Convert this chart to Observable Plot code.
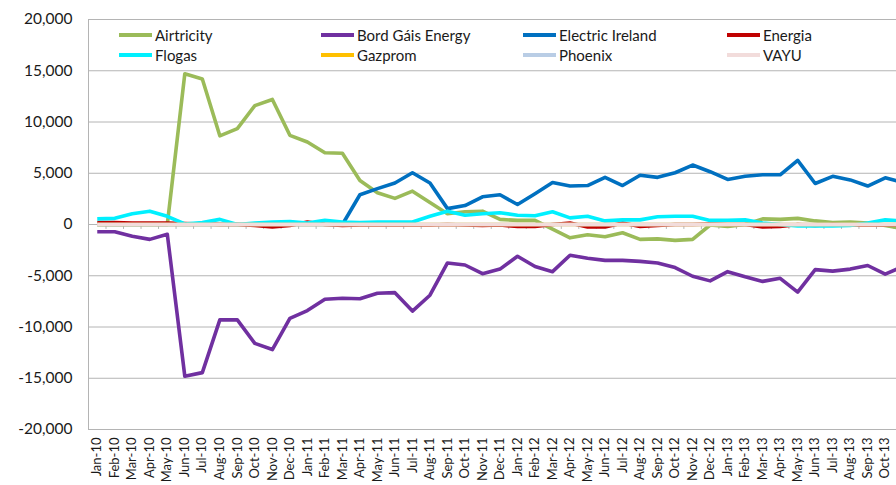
<!DOCTYPE html>
<html><head><meta charset="utf-8">
<script src="https://cdn.jsdelivr.net/npm/d3@7"></script>
<script src="https://cdn.jsdelivr.net/npm/@observablehq/plot@0.6"></script>
<style>
html,body{margin:0;padding:0;overflow:hidden;background:#fff;}
#wrap{position:relative;width:896px;height:485px;overflow:hidden;font-family:Lato,sans-serif;}
#wrap svg{position:absolute;left:0;top:0;max-width:none !important;width:911px !important;height:485px !important;}
.leg{position:absolute;display:flex;align-items:center;font-size:15px;color:#1a1a1a;white-space:nowrap;transform:translateY(-50%);}
.sw{width:33px;height:4px;margin-right:3px;}
</style></head><body><div id="wrap"></div>
<script>
const months = ["Jan-10","Feb-10","Mar-10","Apr-10","May-10","Jun-10","Jul-10","Aug-10","Sep-10","Oct-10","Nov-10","Dec-10",
"Jan-11","Feb-11","Mar-11","Apr-11","May-11","Jun-11","Jul-11","Aug-11","Sep-11","Oct-11","Nov-11","Dec-11",
"Jan-12","Feb-12","Mar-12","Apr-12","May-12","Jun-12","Jul-12","Aug-12","Sep-12","Oct-12","Nov-12","Dec-12",
"Jan-13","Feb-13","Mar-13","Apr-13","May-13","Jun-13","Jul-13","Aug-13","Sep-13","Oct-13","Nov-13"];

const seriesNames = ["Airtricity","Bord Gáis Energy","Electric Ireland","Energia","Flogas","Gazprom","Phoenix","VAYU"];
const seriesColors = ["#9BBB59","#7030A0","#0070C0","#C00000","#00F0FF","#FFC000","#B9CDE5","#F2DCDB"];

const airtricity = [0,0,0,0,0,14700,14200,8650,9350,11600,12200,8700,
 8050,7000,6950,4300,3100,2550,3250,2150,1050,1250,1300,500,
 400,400,-450,-1300,-1000,-1200,-800,-1450,-1400,-1550,-1450,-50,
 -200,0,550,500,600,350,200,250,150,-100,-400];
const bordGais = [-700,-700,-1150,-1450,-950,-14800,-14450,-9300,-9300,-11600,-12200,-9150,
 -8400,-7300,-7200,-7250,-6700,-6650,-8450,-6900,-3750,-3950,-4800,-4350,
 -3100,-4100,-4600,-3000,-3300,-3500,-3500,-3600,-3750,-4200,-5050,-5500,
 -4600,-5100,-5550,-5250,-6600,-4400,-4550,-4350,-4000,-4850,-4100];
const electricIreland = [0,0,0,0,0,0,0,0,0,0,0,0,
 0,0,0,2900,3500,4050,5050,4050,1550,1850,2700,2900,
 1950,3000,4100,3750,3800,4600,3800,4800,4600,5050,5800,5150,
 4400,4700,4850,4850,6250,4000,4700,4350,3750,4550,4100];
const energia = [200,200,150,150,150,100,50,0,0,-100,-250,-100,
 250,0,-100,-50,-50,-50,-50,-50,0,-50,-100,-50,
 -200,-200,0,150,-250,-250,150,-200,-100,0,0,50,
 0,0,-250,-200,0,-100,0,-50,-50,-50,-50];
const flogas = [550,600,1050,1300,800,50,200,500,0,150,250,300,
 150,400,250,200,250,250,250,800,1300,900,1050,1150,
 900,850,1250,650,800,350,450,450,750,800,800,400,
 420,450,150,0,-150,-150,-150,-100,150,450,350];
const gazprom = months.map(() => 0);
const phoenix = months.map(() => 0);
const vayu = months.map(() => 0);

const seriesValues = [airtricity,bordGais,electricIreland,energia,flogas,gazprom,phoenix,vayu];
const yTicks = [-20000,-15000,-10000,-5000,0,5000,10000,15000,20000];

const data = [];
seriesNames.forEach((name, s) => {
  seriesValues[s].forEach((v, i) => data.push({series: name, month: months[i], value: v}));
});

const W = 911, ML = 88, MR = 0;
const step = (W - ML - MR) / months.length;
const gridColor = "#b4b4b4";

const chart = Plot.plot({
  width: W, height: 485,
  marginLeft: ML, marginRight: MR, marginTop: 19, marginBottom: 56,
  style: {fontFamily: "Lato, sans-serif", color: "#1a1a1a", background: "transparent", overflow: "visible", maxWidth: "none"},
  x: {type: "point", domain: months, padding: 0.5, round: false, label: null},
  y: {domain: [-20000, 20000], label: null},
  color: {domain: seriesNames, range: seriesColors},
  marks: [
    Plot.ruleY(yTicks, {stroke: gridColor, strokeWidth: 1}),
    Plot.ruleX([months[0]], {dx: -step / 2, y1: -20000, y2: 20000, stroke: gridColor}),
    Plot.ruleX(months, {dx: step / 2, y1: 0, y2: -480, stroke: gridColor}),
    Plot.axisY(yTicks, {tickSize: 0, tickPadding: 16, fontSize: 15.5, tickFormat: d => d.toLocaleString("en-US"), label: null}),
    Plot.axisX({tickRotate: -90, tickSize: 0, tickPadding: 8, fontSize: 13, label: null}),
    Plot.lineY(data, {x: "month", y: "value", z: "series", stroke: "series", strokeWidth: 3.6, strokeLinejoin: "round", strokeLinecap: "butt"})
  ]
});

const wrap = document.getElementById("wrap");
wrap.appendChild(chart);

const colLeft = [119, 321, 523, 727];
const rowY = [35, 55];
seriesNames.forEach((name, i) => {
  const item = document.createElement("div");
  item.className = "leg";
  item.style.left = colLeft[i % 4] + "px";
  item.style.top = rowY[Math.floor(i / 4)] + "px";
  const sw = document.createElement("span");
  sw.className = "sw";
  sw.style.background = seriesColors[i];
  const t = document.createElement("span");
  t.textContent = name;
  item.appendChild(sw);
  item.appendChild(t);
  wrap.appendChild(item);
});
</script></body></html>
